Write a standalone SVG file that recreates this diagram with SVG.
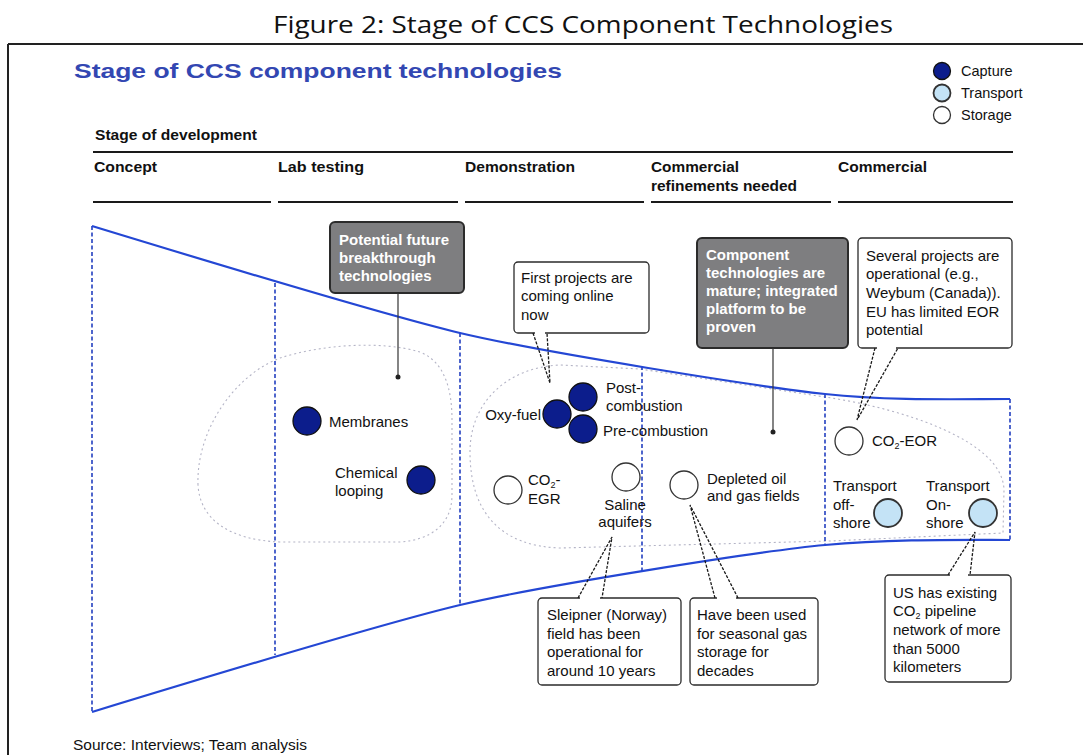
<svg xmlns="http://www.w3.org/2000/svg" width="1083" height="755" viewBox="0 0 1083 755">
<defs>
<style>
.t{font-family:"Liberation Sans",Arial,sans-serif;font-size:15px;fill:#111}
.lg{font-size:14.5px}
.w{fill:#fff;font-weight:bold}
.hd{font-family:"Liberation Sans",Arial,sans-serif;font-size:15px;font-weight:bold;fill:#111}
.fun{fill:none;stroke:#2447d4;stroke-width:2.2}
.vd{stroke:#2440c0;stroke-width:1.6;stroke-dasharray:4 2.5;fill:none}
.blob{fill:none;stroke:#b4b4c6;stroke-width:1.1;stroke-dasharray:2 3}
.cap{fill:#0c1d8c;stroke:#111;stroke-width:1.3}
.trn{fill:#c4e3f6;stroke:#333;stroke-width:1.8}
.sto{fill:#fff;stroke:#333;stroke-width:1.3}
.gbox{fill:#7e7e80;stroke:#2b2b2b;stroke-width:2}
.cbox{fill:#fff;stroke:#2b2b2b;stroke-width:1.3}
.gap{stroke:#fff;stroke-width:2.6}
.ptr{fill:none;stroke:#1a1a1a;stroke-width:1.3;stroke-dasharray:3 1.5}
.con{stroke:#333;stroke-width:1.2}
.hl{stroke:#1a1a1a;stroke-width:2.2}
.sub{font-size:9px}
</style>
</defs>
<rect width="1083" height="755" fill="#fff"/>

<g id="frame">
  <text x="273" y="33" font-family="'Open Sans','Liberation Sans',sans-serif" font-size="23" fill="#111" textLength="620" lengthAdjust="spacingAndGlyphs">Figure 2: Stage of CCS Component Technologies</text>
  <line x1="8" y1="44" x2="1083" y2="44" stroke="#222" stroke-width="2"/>
  <line x1="8" y1="44" x2="8" y2="755" stroke="#222" stroke-width="2"/>
  <text x="74" y="78" font-family="'Liberation Sans',Arial,sans-serif" font-size="21" font-weight="bold" fill="#3347b2" textLength="488" lengthAdjust="spacingAndGlyphs">Stage of CCS component technologies</text>
  <text class="t" x="73" y="750" textLength="234" lengthAdjust="spacingAndGlyphs">Source: Interviews; Team analysis</text>
</g>

<g id="legend">
  <circle class="cap" cx="942" cy="71" r="8.5"/>
  <circle class="trn" cx="942" cy="93" r="8.5"/>
  <circle class="sto" cx="942" cy="115" r="8.5"/>
  <text class="t lg" x="961" y="76">Capture</text>
  <text class="t lg" x="961" y="98">Transport</text>
  <text class="t lg" x="961" y="120">Storage</text>
</g>

<g id="header">
  <text class="hd" x="95" y="140" textLength="162" lengthAdjust="spacingAndGlyphs">Stage of development</text>
  <line class="hl" x1="93" y1="152" x2="1013" y2="152"/>
  <text class="hd" x="94" y="172" textLength="63" lengthAdjust="spacingAndGlyphs">Concept</text>
  <text class="hd" x="278" y="172" textLength="86" lengthAdjust="spacingAndGlyphs">Lab testing</text>
  <text class="hd" x="465" y="172" textLength="110" lengthAdjust="spacingAndGlyphs">Demonstration</text>
  <text class="hd" x="651" y="172" textLength="88" lengthAdjust="spacingAndGlyphs">Commercial</text>
  <text class="hd" x="651" y="191" textLength="146" lengthAdjust="spacingAndGlyphs">refinements needed</text>
  <text class="hd" x="838" y="172" textLength="89" lengthAdjust="spacingAndGlyphs">Commercial</text>
  <line class="hl" x1="93" y1="202" x2="271" y2="202"/>
  <line class="hl" x1="278" y1="202" x2="458" y2="202"/>
  <line class="hl" x1="465" y1="202" x2="644" y2="202"/>
  <line class="hl" x1="651" y1="202" x2="831" y2="202"/>
  <line class="hl" x1="838" y1="202" x2="1013" y2="202"/>
</g>

<g id="funnel">
  <path class="blob" d="M198,485 C196,430 235,375 280,358 C320,345 380,340 420,352 C445,362 452,390 452,420 L452,495 C452,525 430,540 400,542 L280,542 C230,540 200,520 198,485 Z"/>
  <path class="blob" d="M470,452 C470,400 510,367 560,365 L640,369 L825,397 C900,408 1003,440 1004,490 L1003,533 L830,541 L560,548 C500,546 470,512 470,452 Z"/>
  <line class="vd" x1="92" y1="226" x2="92" y2="712"/>
  <line class="vd" x1="275" y1="283" x2="275" y2="655"/>
  <line class="vd" x1="460" y1="333" x2="460" y2="605"/>
  <line class="vd" x1="642" y1="366" x2="642" y2="572"/>
  <line class="vd" x1="825" y1="394" x2="825" y2="545"/>
  <line class="vd" x1="1010" y1="399" x2="1010" y2="540"/>
  <path class="fun" d="M92,226 C200,259 380,314 460,333 S760,387 825,394 S960,399 1010,399"/>
  <path class="fun" d="M92,712 C200,679 380,624 460,605 S760,551 825,545 S960,540 1010,540"/>
</g>

<g id="node-membranes">
  <circle class="cap" cx="307" cy="421" r="14"/>
  <text class="t" x="329" y="427">Membranes</text>
</g>
<g id="node-chemical-looping">
  <circle class="cap" cx="421" cy="480" r="14"/>
  <text class="t" x="335" y="478">Chemical</text>
  <text class="t" x="335" y="496">looping</text>
</g>
<g id="node-oxy-fuel">
  <circle class="cap" cx="557" cy="414" r="14"/>
  <text class="t" x="541" y="420" text-anchor="end">Oxy-fuel</text>
</g>
<g id="node-post-combustion">
  <circle class="cap" cx="583" cy="397" r="14"/>
  <text class="t" x="606" y="393">Post-</text>
  <text class="t" x="606" y="411">combustion</text>
</g>
<g id="node-pre-combustion">
  <circle class="cap" cx="583" cy="429" r="14"/>
  <text class="t" x="603" y="436">Pre-combustion</text>
</g>
<g id="node-co2-egr">
  <circle class="sto" cx="508" cy="490" r="14"/>
  <text class="t" x="528" y="485">CO<tspan class="sub" dy="3">2</tspan><tspan dy="-3">-</tspan></text>
  <text class="t" x="528" y="504">EGR</text>
</g>
<g id="node-saline-aquifers">
  <circle class="sto" cx="626" cy="477" r="14"/>
  <text class="t" x="625" y="510" text-anchor="middle">Saline</text>
  <text class="t" x="625" y="527" text-anchor="middle">aquifers</text>
</g>
<g id="node-depleted-fields">
  <circle class="sto" cx="684" cy="485" r="14"/>
  <text class="t" x="707" y="484">Depleted oil</text>
  <text class="t" x="707" y="501">and gas fields</text>
</g>
<g id="node-co2-eor">
  <circle class="sto" cx="849" cy="441" r="14"/>
  <text class="t" x="872" y="446">CO<tspan class="sub" dy="3">2</tspan><tspan dy="-3">-EOR</tspan></text>
</g>
<g id="node-transport-offshore">
  <circle class="trn" cx="888" cy="513" r="14"/>
  <text class="t" x="833" y="491">Transport</text>
  <text class="t" x="833" y="510">off-</text>
  <text class="t" x="833" y="528">shore</text>
</g>
<g id="node-transport-onshore">
  <circle class="trn" cx="983" cy="513" r="14"/>
  <text class="t" x="926" y="491">Transport</text>
  <text class="t" x="926" y="510">On-</text>
  <text class="t" x="926" y="528">shore</text>
</g>

<g id="box-breakthrough">
  <rect class="gbox" x="330" y="222" width="134" height="71" rx="5"/>
  <text class="t w" x="339" y="245">Potential future</text>
  <text class="t w" x="339" y="263">breakthrough</text>
  <text class="t w" x="339" y="281">technologies</text>
</g>
<g id="box-integrated">
  <rect class="gbox" x="697" y="238" width="151" height="110" rx="5"/>
  <text class="t w" x="706" y="260">Component</text>
  <text class="t w" x="706" y="278">technologies are</text>
  <text class="t w" x="706" y="296">mature; integrated</text>
  <text class="t w" x="706" y="314">platform to be</text>
  <text class="t w" x="706" y="332">proven</text>
</g>
<g id="callout-first-projects">
  <rect class="cbox" x="514" y="262" width="135" height="71" rx="4"/>
  <line class="gap" x1="535" y1="333" x2="545" y2="333"/>
  <text class="t" x="521" y="283">First projects are</text>
  <text class="t" x="521" y="301">coming online</text>
  <text class="t" x="521" y="320">now</text>
</g>
<g id="callout-several-projects">
  <rect class="cbox" x="858" y="238" width="154" height="110" rx="4"/>
  <line class="gap" x1="877" y1="348" x2="896" y2="348"/>
  <text class="t" x="866" y="261">Several projects are</text>
  <text class="t" x="866" y="279">operational (e.g.,</text>
  <text class="t" x="866" y="298">Weybum (Canada)).</text>
  <text class="t" x="866" y="317">EU has limited EOR</text>
  <text class="t" x="866" y="335">potential</text>
</g>
<g id="callout-sleipner">
  <rect class="cbox" x="538" y="598" width="143" height="87" rx="4"/>
  <line class="gap" x1="580" y1="598" x2="600" y2="598"/>
  <text class="t" x="547" y="620">Sleipner (Norway)</text>
  <text class="t" x="547" y="639">field has been</text>
  <text class="t" x="547" y="657">operational for</text>
  <text class="t" x="547" y="676">around 10 years</text>
</g>
<g id="callout-seasonal">
  <rect class="cbox" x="690" y="598" width="128" height="87" rx="4"/>
  <line class="gap" x1="717" y1="598" x2="736" y2="598"/>
  <text class="t" x="697" y="620">Have been used</text>
  <text class="t" x="697" y="639">for seasonal gas</text>
  <text class="t" x="697" y="657">storage for</text>
  <text class="t" x="697" y="676">decades</text>
</g>
<g id="callout-us-pipeline">
  <rect class="cbox" x="885" y="575" width="126" height="107" rx="4"/>
  <line class="gap" x1="950" y1="575" x2="968" y2="575"/>
  <text class="t" x="893" y="598">US has existing</text>
  <text class="t" x="893" y="616">CO<tspan class="sub" dy="3">2</tspan><tspan dy="-3"> pipeline</tspan></text>
  <text class="t" x="893" y="635">network of more</text>
  <text class="t" x="893" y="654">than 5000</text>
  <text class="t" x="893" y="672">kilometers</text>
</g>

<g id="connectors">
  <line class="con" x1="398" y1="293" x2="398" y2="377"/>
  <circle cx="398" cy="377" r="2.5" fill="#222"/>
  <line class="con" x1="773" y1="348" x2="773" y2="432"/>
  <circle cx="773" cy="432" r="2.5" fill="#222"/>
  <path class="ptr" d="M533,333 L550,383 L547,333"/>
  <path class="ptr" d="M875,348 L857,420 L898,348"/>
  <path class="ptr" d="M578,598 L612,537 L602,598"/>
  <path class="ptr" d="M715,598 L690,505 L738,598"/>
  <path class="ptr" d="M948,575 L975,532 L970,575"/>
</g>
</svg>
